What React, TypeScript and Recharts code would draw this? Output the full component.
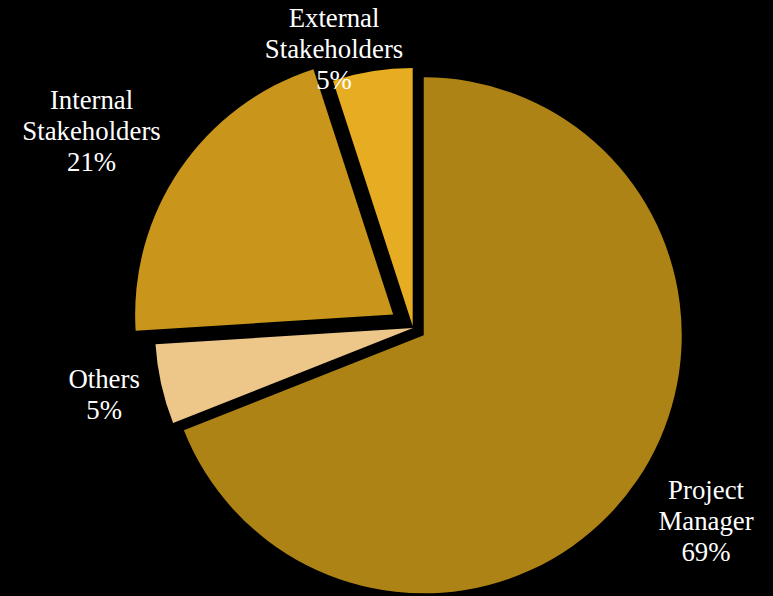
import { PieChart, Pie, Cell } from 'recharts';

const categories = ['Project Manager', 'Others', 'Internal Stakeholders', 'External Stakeholders'];
const shares = [69, 5, 21, 5];
const labelLines = [['Project', 'Manager'], ['Others'], ['Internal', 'Stakeholders'], ['External', 'Stakeholders']];

const colors = ['#AD8315', '#EDC68A', '#C9961B', '#E6AD22'];
// how far each slice is pulled out from the centre
const explode = [13, 0, 24, 2];
// label distance from centre and angle nudge (deg) per slice
const labelPlace = [
  [351, 0.8],
  [316, -0.4],
  [377, 2.7],
  [290, 6.8],
];

const W = 773;
const H = 596;
const CX = 413;
const CY = 328;
const R = 258;
const RAD = Math.PI / 180;
const FONT = "'Liberation Serif', 'Times New Roman', serif";

const data = categories.map((name, i) => ({ name, value: shares[i] }));
const total = shares.reduce((a, b) => a + b, 0);

// mid angle of each slice in recharts terms (start 90, clockwise)
const midAngles = shares.map((v, i) => {
  const before = shares.slice(0, i).reduce((a, b) => a + b, 0);
  return 90 - (360 * (before + v / 2)) / total;
});

const renderLabel = (props: any) => {
  const { index, midAngle, value } = props;
  const [dist, nudge] = labelPlace[index];
  const a = (midAngle + nudge) * RAD;
  const x = CX + dist * Math.cos(a);
  const y = CY - dist * Math.sin(a);
  const lines = [...labelLines[index], `${value}%`];
  const n = lines.length;
  return (
    <text key={`lbl-${index}`} x={x} y={y} textAnchor='middle' fill='#fff' fontFamily={FONT} fontSize={26.8}>
      {lines.map((t, k) => (
        <tspan key={k} x={x} y={y + 9 + (k - (n - 1) / 2) * 31}>
          {t}
        </tspan>
      ))}
    </text>
  );
};

const App = () => {
  return (
    <div style={{ position: 'absolute', left: 0, top: 0, width: W, height: H, background: '#000' }}>
      <PieChart width={W} height={H} margin={{ top: 0, right: 0, bottom: 0, left: 0 }}>
        {categories.map((_, i) => {
          const a = midAngles[i] * RAD;
          return (
            <Pie
              key={i}
              data={data}
              dataKey='value'
              nameKey='name'
              cx={CX + explode[i] * Math.cos(a)}
              cy={CY - explode[i] * Math.sin(a)}
              outerRadius={R}
              startAngle={90}
              endAngle={-270}
              stroke='none'
              isAnimationActive={false}
              label={i === 0 ? renderLabel : false}
              labelLine={false}
            >
              {data.map((_, j) => (
                <Cell key={j} fill={j === i ? colors[j] : 'transparent'} stroke='none' />
              ))}
            </Pie>
          );
        })}
      </PieChart>
    </div>
  );
};

export default App;
